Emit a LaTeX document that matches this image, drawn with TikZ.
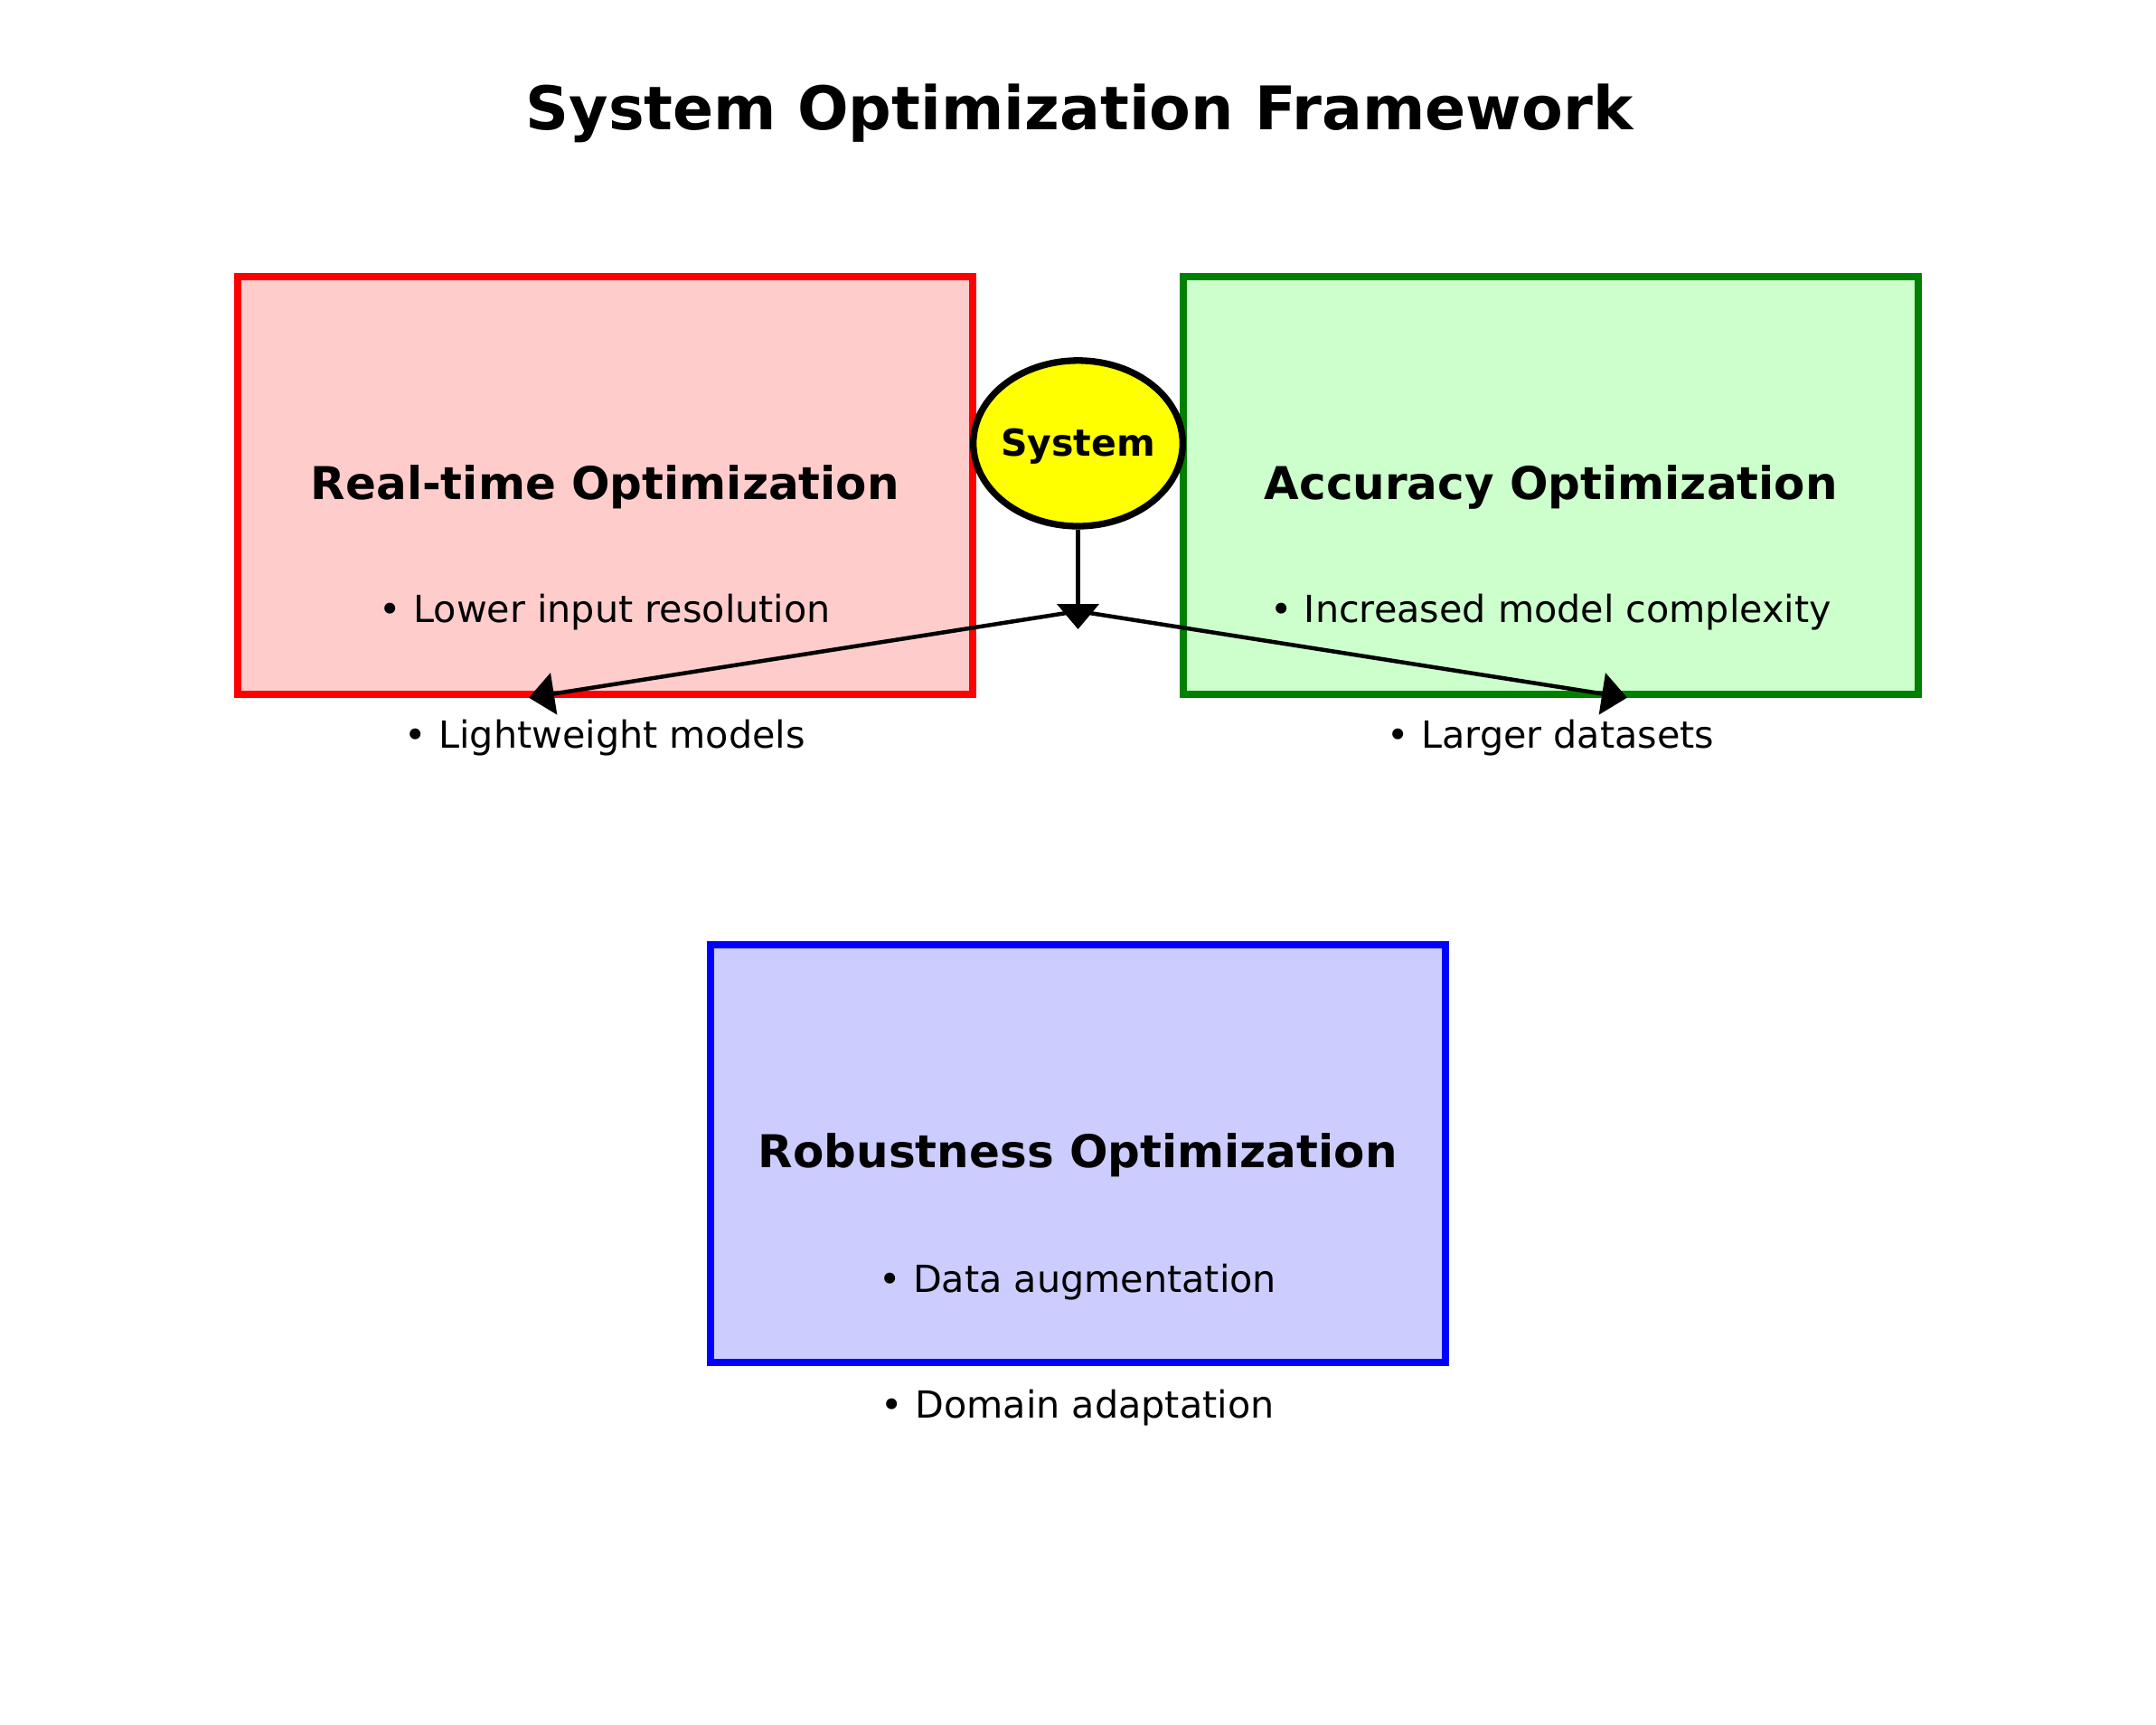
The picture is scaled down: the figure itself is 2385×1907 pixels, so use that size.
\documentclass[tikz,border=0pt]{standalone}
\usepackage{fontspec}
\setmainfont{DejaVu Sans}
\usetikzlibrary{shapes.geometric,arrows.meta}
\definecolor{rfill}{HTML}{FFCCCC}
\definecolor{gfill}{HTML}{CCFFCC}
\definecolor{bfill}{HTML}{CCCCFF}
\definecolor{gline}{HTML}{008000}
\definecolor{rline}{HTML}{FF0000}
\definecolor{bline}{HTML}{0000FF}
\definecolor{sysfill}{HTML}{FFFF00}
\begin{document}
\begin{tikzpicture}[x=1pt,y=-1pt,
  box/.style={draw, line width=8.3pt, minimum width=813pt, minimum height=462pt, inner sep=0pt},
  head/.style={font=\fontsize{50}{60}\selectfont\bfseries, anchor=base, inner sep=0pt},
  item/.style={font=\fontsize{41.3}{50}\selectfont, anchor=base, inner sep=0pt},
  conn/.style={line width=4.5pt, -{Triangle[length=28pt,width=46pt]}}]
\useasboundingbox (0,0) rectangle (2385,1907);
\fill[white] (0,0) rectangle (2385,1907);

\node[font=\fontsize{66.6}{80}\selectfont\bfseries, anchor=base, inner sep=0pt] (title) at (1194,143) {System Optimization Framework};

\node[box, draw=rline, fill=rfill] (rt) at (669.35,537) {};
\node[box, draw=gline, fill=gfill] (acc) at (1715.65,537) {};
\node[box, draw=bline, fill=bfill] (rob) at (1192.25,1276) {};

\node[head] (rtl) at (669.35,552) {Real-time Optimization};
\node[item] (rt1) at (669.35,688) {• Lower input resolution};
\node[item] (rt2) at (669.35,827) {• Lightweight models};

\node[head] (accl) at (1715.65,552) {Accuracy Optimization};
\node[item] (acc1) at (1715.65,688) {• Increased model complexity};
\node[item] (acc2) at (1715.65,827) {• Larger datasets};

\node[head] (robl) at (1192.25,1291.5) {Robustness Optimization};
\node[item] (rob1) at (1192.25,1429) {• Data augmentation};
\node[item] (rob2) at (1192.25,1568) {• Domain adaptation};

\node[ellipse, draw=black, fill=sysfill, line width=7.3pt, inner sep=0pt,
  minimum width=231.6pt, minimum height=183.2pt] (sys) at (1192.5,490.4) {};
\node[font=\fontsize{41}{50}\selectfont\bfseries, anchor=base, inner sep=0pt] (syslabel) at (1192.5,504) {System};

\coordinate (junc) at (1192.5,696);
\coordinate (split) at (1192.5,676);
\coordinate (ltip) at (585,771.7);
\coordinate (rtip) at (1800,771.7);

\draw[conn] (sys.south) -- (junc);
\draw[conn] (split) -- (ltip);
\draw[conn] (split) -- (rtip);
\end{tikzpicture}
\end{document}
